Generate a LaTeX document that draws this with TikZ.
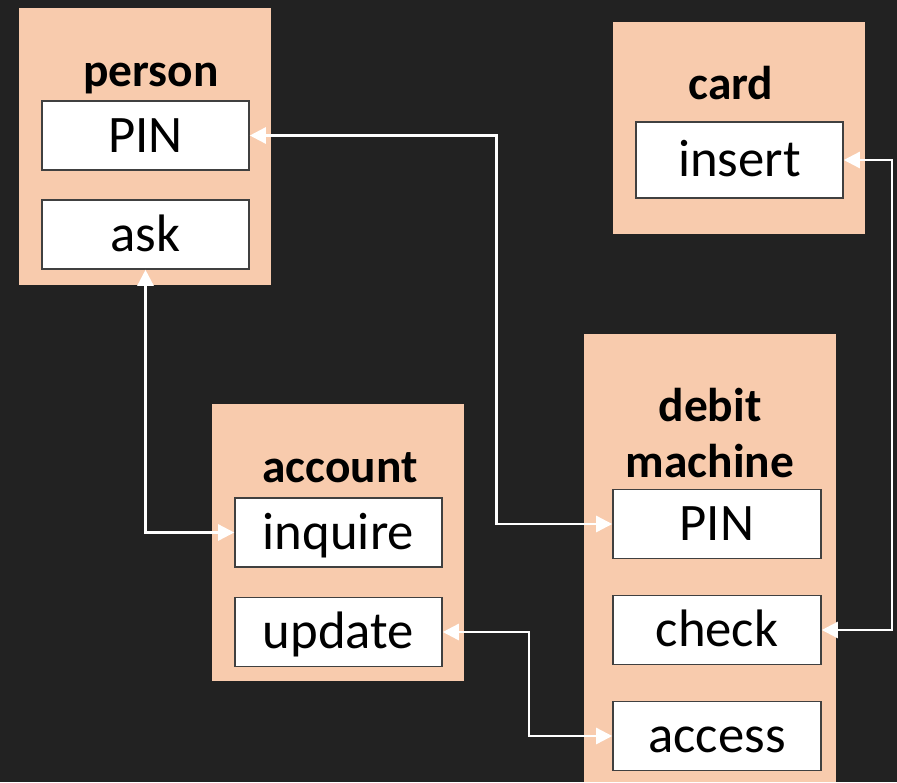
\documentclass[tikz,border=0pt]{standalone}
\usepackage{fontspec}
\setmainfont{Carlito}
\usetikzlibrary{arrows.meta}

\definecolor{bg}{HTML}{222222}
\definecolor{peach}{HTML}{F8CBAD}
\definecolor{rim}{HTML}{404040}

\tikzset{
  object/.style={fill=peach, draw=none, minimum width=5.04cm, inner sep=0pt},
  title/.style={font=\fontsize{27}{32.4}\selectfont\bfseries, align=center, inner sep=0pt},
  slot/.style={fill=white, draw=rim, line width=0.9pt, minimum width=4.14cm,
    minimum height=1.38cm, inner sep=0pt, text height=0.8cm, text depth=0.14cm,
    font=\fontsize{30}{32}\selectfont},
  link/.style={draw=white, line width=1.4pt,
    {Triangle[length=0.32cm,width=0.32cm]}-{Triangle[length=0.32cm,width=0.32cm]}}
}

\begin{document}
\begin{tikzpicture}[x=0.02cm, y=-0.02cm]
\fill [bg] (0,0) rectangle (897,782);
\useasboundingbox (0,0) rectangle (897,782);

% objects
\node [object, minimum height=5.54cm] (person) at (145,146.5) {};
\node [object, minimum height=4.24cm] (card) at (739,128) {};
\node [object, minimum height=5.54cm] (account) at (338,542.5) {};
\node [object, minimum height=8.96cm] (debit) at (710,558) {};

\node [title] at (151,79) {person};
\node [title] at (731,83) {card};
\node [title] at (340,468) {account};
\node [title] at (710,433) {debit\\machine};

% methods
\node [slot] (ppin) at (145.5,135.5) {PIN};
\node [slot] (ask) at (145.5,234.5) {ask};
\node [slot, minimum height=1.52cm] (insert) at (739.5,160) {insert};
\node [slot] (inquire) at (338.5,532.5) {inquire};
\node [slot] (update) at (338.5,632) {update};
\node [slot, minimum width=4.16cm] (dpin) at (717,524) {PIN};
\node [slot, minimum width=4.16cm] (check) at (717,630) {check};
\node [slot, minimum width=4.16cm] (access) at (717,736) {access};

% messages
\draw [link] (ppin.east) -- ++(246.5,0) |- (dpin.west);
\draw [link] (ask.south) |- (inquire.west);
\draw [link] (update.east) -- ++(86,0) |- (access.west);
\draw [link] (insert.east) -- ++(48,0) |- (check.east);
\end{tikzpicture}
\end{document}
